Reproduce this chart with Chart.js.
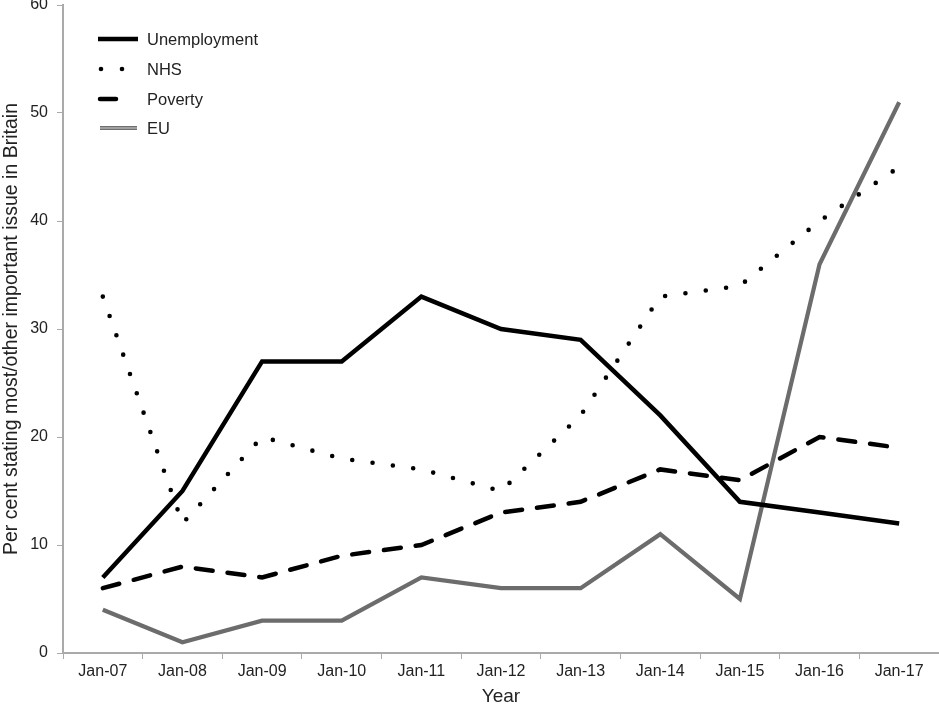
<!DOCTYPE html>
<html>
<head>
<meta charset="utf-8">
<script src="https://cdn.jsdelivr.net/npm/chart.js@4.4.1/dist/chart.umd.min.js"></script>
<style>
html,body{margin:0;padding:0;background:#fff;}
#wrap{position:relative;width:939px;height:708px;}
</style>
</head>
<body>
<div id="wrap"><canvas id="c" width="939" height="708"></canvas></div>
<script>
const categories = ['Jan-07','Jan-08','Jan-09','Jan-10','Jan-11','Jan-12','Jan-13','Jan-14','Jan-15','Jan-16','Jan-17'];
const unemployment = [7, 15, 27, 27, 33, 30, 29, 22, 14, 13, 12];
const nhs = [33, 12, 20, 18, 17, 15, 22, 33, 34, 40, 45];
const poverty = [6, 8, 7, 9, 10, 13, 14, 17, 16, 20, 19];
const eu = [4, 1, 3, 3, 7, 6, 6, 11, 5, 36, 51];
const yTicks = [0, 10, 20, 30, 40, 50, 60];

const FONT = '"Liberation Sans", Arial, sans-serif';

const legendPlugin = {
  id: 'insideLegend',
  afterDraw(chart) {
    const ctx = chart.ctx;
    const items = [
      {label: 'Unemployment', y: 39, draw: (y) => { ctx.strokeStyle = '#000'; ctx.lineWidth = 4.5; ctx.setLineDash([]); ctx.lineCap = 'butt'; ctx.beginPath(); ctx.moveTo(98, y); ctx.lineTo(138, y); ctx.stroke(); }},
      {label: 'NHS', y: 69, draw: (y) => { ctx.fillStyle = '#000'; [101, 122].forEach(x => { ctx.beginPath(); ctx.arc(x, y, 2.3, 0, Math.PI * 2); ctx.fill(); }); }},
      {label: 'Poverty', y: 99, draw: (y) => { ctx.strokeStyle = '#000'; ctx.lineWidth = 4.5; ctx.setLineDash([]); ctx.lineCap = 'round'; ctx.beginPath(); ctx.moveTo(100, y); ctx.lineTo(116, y); ctx.stroke(); }},
      {label: 'EU', y: 128, draw: (y) => { ctx.strokeStyle = '#707070'; ctx.lineWidth = 4; ctx.setLineDash([]); ctx.lineCap = 'butt'; ctx.beginPath(); ctx.moveTo(100, y); ctx.lineTo(137, y); ctx.stroke(); ctx.strokeStyle = '#b0b0b0'; ctx.lineWidth = 1.3; ctx.beginPath(); ctx.moveTo(100, y); ctx.lineTo(137, y); ctx.stroke(); }}
    ];
    ctx.save();
    items.forEach(it => {
      it.draw(it.y);
      ctx.fillStyle = '#222';
      ctx.font = '16.5px ' + FONT;
      ctx.textBaseline = 'middle';
      ctx.textAlign = 'left';
      ctx.fillText(it.label, 147, it.y + 1);
    });
    ctx.restore();
  }
};

new Chart(document.getElementById('c'), {
  type: 'line',
  data: {
    labels: categories,
    datasets: [
      {label: 'Unemployment', data: unemployment, borderColor: '#000', borderWidth: 4.5, pointRadius: 0, tension: 0, borderJoinStyle: 'miter'},
      {label: 'NHS', data: nhs, borderColor: '#000', borderWidth: 4.6, borderDash: [0, 20.5], borderCapStyle: 'round', pointRadius: 0, tension: 0},
      {label: 'Poverty', data: poverty, borderColor: '#000', borderWidth: 4.5, borderDash: [17, 15], borderCapStyle: 'round', pointRadius: 0, tension: 0},
      {label: 'EU', data: eu, borderColor: '#6c6c6c', borderWidth: 4.2, pointRadius: 0, tension: 0, borderJoinStyle: 'miter'},
      {label: 'EU inner', data: eu, borderColor: '#b0b0b0', borderWidth: 1.3, pointRadius: 0, tension: 0, borderJoinStyle: 'miter'}
    ]
  },
  options: {
    responsive: false,
    animation: false,
    devicePixelRatio: 1,
    layout: {padding: {top: 5, right: 0, left: 0, bottom: 0}},
    plugins: {legend: {display: false}, tooltip: {enabled: false}},
    scales: {
      x: {
        offset: true,
        grid: {display: true, drawOnChartArea: false, drawTicks: true, tickLength: 6, color: '#aaa', offset: true},
        border: {display: true, color: '#aaa', width: 2},
        ticks: {color: '#222', font: {family: FONT, size: 16}, padding: 3, maxRotation: 0},
        title: {display: true, text: 'Year', color: '#222', font: {family: FONT, size: 19}, padding: {top: 0, bottom: 0}},
        afterFit(scale) { scale.height = 55; scale.paddingLeft = 0; scale.paddingRight = 0; }
      },
      y: {
        min: 0, max: 60,
        afterBuildTicks(scale) { scale.ticks = yTicks.map(v => ({value: v})); },
        grid: {display: true, drawOnChartArea: false, drawTicks: true, tickLength: 6, color: '#aaa'},
        border: {display: true, color: '#aaa', width: 2},
        ticks: {color: '#222', font: {family: FONT, size: 16}, padding: 9},
        title: {display: true, text: 'Per cent stating most/other important issue in Britain', color: '#222', font: {family: FONT, size: 19.5}, padding: {top: 0, bottom: 2}},
        afterFit(scale) { scale.width = 63; scale.paddingTop = 0; scale.paddingBottom = 0; }
      }
    }
  },
  plugins: [legendPlugin]
});
</script>
</body>
</html>
